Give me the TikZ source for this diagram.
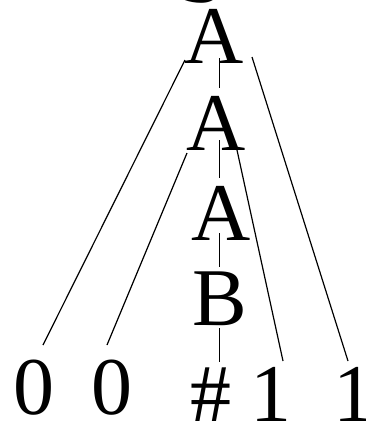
\documentclass[tikz,border=0pt]{standalone}
\usepackage{fontspec}
\setmainfont{Liberation Serif}
\usetikzlibrary{calc}
\begin{document}
\begin{tikzpicture}[x=1pt,y={(0,-1pt)},
  sym/.style={anchor=base,inner sep=0pt,outer sep=0pt,font=\fontsize{82}{82}\selectfont},
  edge/.style={line width=1.2pt}]
\clip (0,0) rectangle (366,424);
\useasboundingbox (0,0) rectangle (366,424);
\node[sym] (s) at (202,2) {S};
\node[sym] (a1) at (214,63) {A};
\node[sym] (a2) at (216,150) {A};
\node[sym] (a3) at (221,240) {A};
\node[sym] (b) at (220,325) {B};
\node[sym] (hash) at (211,421) {\#};
\node[sym] (z1) at (34,414) {0};
\node[sym] (z2) at (112,414) {0};
\node[sym] (o1) at (270.5,421) {1};
\node[sym] (o2) at (354,421) {1};
\draw[edge] ($(a1.base)+(-29,-3)$) -- ($(z1.base)+(9,-69)$);
\draw[edge] ($(a1.base)+(5.3,-5)$) -- ($(a2.base)+(3.3,-62)$);
\draw[edge] ($(a1.base)+(38,-6)$) -- ($(o2.base)+(-6,-60)$);
\draw[edge] ($(a2.base)+(-29,3)$) -- ($(z2.base)+(-5,-69)$);
\draw[edge] ($(a2.base)+(3.3,-10)$) -- ($(a3.base)+(-1.7,-62)$);
\draw[edge] ($(a2.base)+(21,0)$) -- ($(o1.base)+(12.5,-60)$);
\draw[edge] ($(a3.base)+(-1.7,-7)$) -- ($(b.base)+(-0.7,-58)$);
\draw[edge] ($(b.base)+(-0.7,3)$) -- ($(hash.base)+(8.3,-59)$);
\end{tikzpicture}
\end{document}
